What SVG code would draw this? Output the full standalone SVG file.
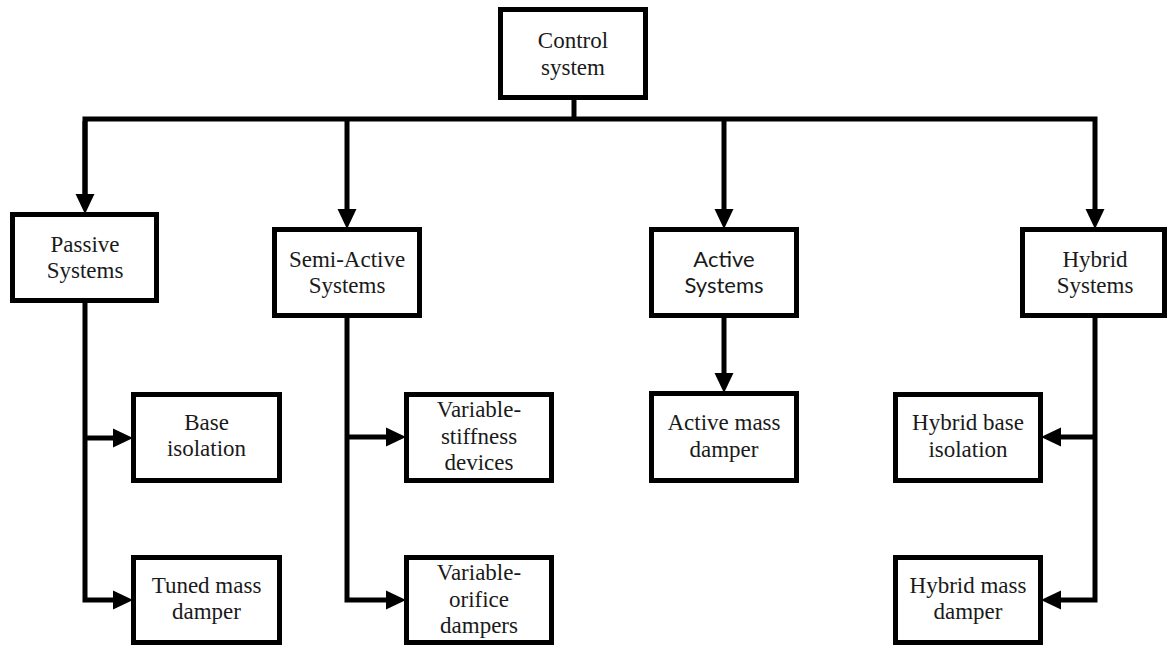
<svg xmlns="http://www.w3.org/2000/svg" width="1168" height="646" viewBox="0 0 1168 646">
<style>
.box{fill:#fff;stroke:#000;stroke-width:5}
.t{font-family:"Liberation Serif","Times New Roman",serif;font-size:23px;fill:#1a1a1a;text-anchor:middle}
.s{font-family:Lato,"Open Sans","Liberation Sans",sans-serif;font-size:22px;fill:#1a1a1a;text-anchor:middle}
.c{fill:none;stroke:#000;stroke-width:5;stroke-linejoin:miter}
</style>
<defs>
<marker id="ah" markerUnits="userSpaceOnUse" markerWidth="20" markerHeight="20" refX="0" refY="9" orient="auto" viewBox="0 0 19 18">
<path d="M0,0 L19,9 L0,18 Z" fill="#000"/>
</marker>
</defs>
<g id="connectors">
<path class="c" d="M574,100 V119"/>
<path class="c" d="M85,194 V119 H1095 V209" marker-end="url(#ah)"/>
<path class="c" d="M85,121 V194" marker-end="url(#ah)"/>
<path class="c" d="M347,119 V209" marker-end="url(#ah)"/>
<path class="c" d="M724,119 V209" marker-end="url(#ah)"/>
<path class="c" d="M85,303 V600 H113" marker-end="url(#ah)"/>
<path class="c" d="M85,438 H113" marker-end="url(#ah)"/>
<path class="c" d="M347,318 V600 H386" marker-end="url(#ah)"/>
<path class="c" d="M347,437 H386" marker-end="url(#ah)"/>
<path class="c" d="M724,318 V373" marker-end="url(#ah)"/>
<path class="c" d="M1095,318 V600 H1061" marker-end="url(#ah)"/>
<path class="c" d="M1095,437 H1061" marker-end="url(#ah)"/>
</g>
<g id="control">
<rect class="box" x="500.5" y="9.5" width="145" height="88"/>
<text class="t" x="573" y="48">Control</text>
<text class="t" x="573" y="75">system</text>
</g>
<g id="passive">
<rect class="box" x="12.5" y="214.5" width="144" height="86"/>
<text class="t" x="85" y="252">Passive</text>
<text class="t" x="85" y="278">Systems</text>
</g>
<g id="semiactive">
<rect class="box" x="274.5" y="229.5" width="145" height="86"/>
<text class="t" x="347" y="267">Semi-Active</text>
<text class="t" x="347" y="293">Systems</text>
</g>
<g id="active">
<rect class="box" x="651.5" y="229.5" width="145" height="86"/>
<text class="s" x="724" y="267">Active</text>
<text class="s" x="724" y="293">Systems</text>
</g>
<g id="hybrid">
<rect class="box" x="1022.5" y="229.5" width="142" height="86"/>
<text class="t" x="1095" y="267">Hybrid</text>
<text class="t" x="1095" y="293">Systems</text>
</g>
<g id="base-isolation">
<rect class="box" x="133.5" y="394.5" width="146" height="86"/>
<text class="t" x="206.5" y="430">Base</text>
<text class="t" x="206.5" y="456">isolation</text>
</g>
<g id="tuned-mass-damper">
<rect class="box" x="133.5" y="557.5" width="146" height="85"/>
<text class="t" x="206.5" y="593">Tuned mass</text>
<text class="t" x="206.5" y="619">damper</text>
</g>
<g id="variable-stiffness">
<rect class="box" x="406.5" y="394.5" width="145" height="86"/>
<text class="t" x="479" y="417">Variable-</text>
<text class="t" x="479" y="443.5">stiffness</text>
<text class="t" x="479" y="470">devices</text>
</g>
<g id="variable-orifice">
<rect class="box" x="406.5" y="557.5" width="145" height="85"/>
<text class="t" x="479" y="580">Variable-</text>
<text class="t" x="479" y="607">orifice</text>
<text class="t" x="479" y="633">dampers</text>
</g>
<g id="active-mass-damper">
<rect class="box" x="651.5" y="393.5" width="145" height="87"/>
<text class="t" x="724" y="430">Active mass</text>
<text class="t" x="724" y="457">damper</text>
</g>
<g id="hybrid-base-isolation">
<rect class="box" x="895.5" y="394.5" width="145" height="86"/>
<text class="t" x="968" y="430">Hybrid base</text>
<text class="t" x="968" y="457">isolation</text>
</g>
<g id="hybrid-mass-damper">
<rect class="box" x="895.5" y="557.5" width="145" height="85"/>
<text class="t" x="968" y="593">Hybrid mass</text>
<text class="t" x="968" y="619">damper</text>
</g>
</svg>
